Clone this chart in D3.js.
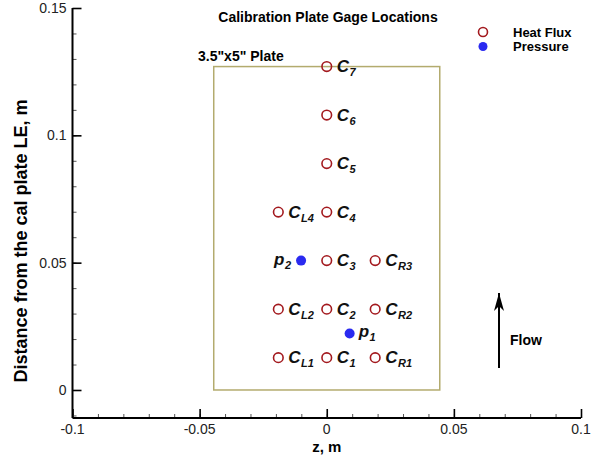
<!DOCTYPE html>
<html>
<head>
<meta charset="utf-8">
<script src="https://cdn.jsdelivr.net/npm/d3@7"></script>
<style>
  html, body { margin: 0; padding: 0; background: #fff; }
  svg { display: block; font-family: "Liberation Sans", Arial, Helvetica, sans-serif; }
</style>
</head>
<body>
<svg id="chart" width="598" height="457"></svg>
<script>
// Gage positions on the 3.5" x 5" calibration plate (metres)
const heatFluxNames = ["C1", "C2", "C3", "C4", "C5", "C6", "C7", "CL1", "CL2", "CL4", "CR1", "CR2", "CR3"];
const heatFluxSub   = ["1", "2", "3", "4", "5", "6", "7", "L1", "L2", "L4", "R1", "R2", "R3"];
const heatFluxZ     = [0, 0, 0, 0, 0, 0, 0, -0.01905, -0.01905, -0.01905, 0.01905, 0.01905, 0.01905];
const heatFluxY     = [0.0127, 0.03175, 0.0508, 0.06985, 0.0889, 0.10795, 0.127, 0.0127, 0.03175, 0.06985, 0.0127, 0.03175, 0.0508];

const pressureNames = ["p1", "p2"];
const pressureSub   = ["1", "2"];
const pressureZ     = [0.009, -0.0101];
const pressureY     = [0.0222, 0.0508];

// Plate outline corners
const plateZ = [-0.04445, 0.04445];
const plateY = [0, 0.127];

const xTicks = [-0.1, -0.05, 0, 0.05, 0.1];
const yTicks = [0, 0.05, 0.1, 0.15];

const svg = d3.select("#chart");

const x = d3.scaleLinear().domain([-0.1, 0.1]).range([72.5, 581]);
const y = d3.scaleLinear().domain([-0.011, 0.15]).range([418, 8]);

const tickFmt = d => d === 0 ? "0" : String(d);

// Minor ticks
const xMinor = d3.range(-0.1, 0.1001, 0.01).map(v => +v.toFixed(3));
const yMinor = d3.range(-0.01, 0.1501, 0.01).map(v => +v.toFixed(3));

// x axis
const xAxisG = svg.append("g").attr("transform", `translate(0,${y.range()[0]})`);
xAxisG.append("g")
  .call(d3.axisTop(x).tickValues(xMinor).tickSize(4).tickFormat(""))
  .call(g => g.select(".domain").remove())
  .call(g => g.selectAll("line").attr("stroke", "#555").attr("stroke-width", 1));
xAxisG.append("g")
  .call(d3.axisTop(x).tickValues(xTicks).tickSize(9).tickFormat(""))
  .call(g => g.select(".domain").remove())
  .call(g => g.selectAll("line").attr("stroke", "#000").attr("stroke-width", 1.6));
xAxisG.append("line").attr("x1", x.range()[0]).attr("x2", x.range()[1])
  .attr("stroke", "#000").attr("stroke-width", 2);
xAxisG.selectAll("text.xl").data(xTicks).join("text")
  .attr("class", "xl")
  .attr("x", d => x(d)).attr("y", 16)
  .attr("text-anchor", "middle")
  .attr("font-size", 14).attr("fill", "#222")
  .text(tickFmt);

// y axis
const yAxisG = svg.append("g").attr("transform", `translate(${x.range()[0]},0)`);
yAxisG.append("g")
  .call(d3.axisRight(y).tickValues(yMinor).tickSize(4).tickFormat(""))
  .call(g => g.select(".domain").remove())
  .call(g => g.selectAll("line").attr("stroke", "#555").attr("stroke-width", 1));
yAxisG.append("g")
  .call(d3.axisRight(y).tickValues(yTicks).tickSize(9).tickFormat(""))
  .call(g => g.select(".domain").remove())
  .call(g => g.selectAll("line").attr("stroke", "#000").attr("stroke-width", 1.6));
yAxisG.append("line").attr("y1", y.range()[0]).attr("y2", y(0.15))
  .attr("stroke", "#000").attr("stroke-width", 2);
yAxisG.selectAll("text.yl").data(yTicks).join("text")
  .attr("class", "yl")
  .attr("x", -6).attr("y", d => y(d)).attr("dy", "0.35em")
  .attr("text-anchor", "end")
  .attr("font-size", 14).attr("fill", "#222")
  .text(tickFmt);

// Axis titles
svg.append("text")
  .attr("x", x(0)).attr("y", 452)
  .attr("text-anchor", "middle")
  .attr("font-size", 15).attr("font-weight", "bold")
  .text("z, m");
svg.append("text")
  .attr("transform", `translate(27,241) rotate(-90)`)
  .attr("text-anchor", "middle")
  .attr("font-size", 18).attr("font-weight", "bold")
  .text("Distance from the cal plate LE, m");

// Title
svg.append("text")
  .attr("x", 328).attr("y", 22)
  .attr("text-anchor", "middle")
  .attr("font-size", 14).attr("font-weight", "bold")
  .text("Calibration Plate Gage Locations");

// Plate outline
svg.append("rect")
  .attr("x", x(plateZ[0])).attr("y", y(plateY[1]))
  .attr("width", x(plateZ[1]) - x(plateZ[0]))
  .attr("height", y(plateY[0]) - y(plateY[1]))
  .attr("fill", "none").attr("stroke", "#b3ab6e").attr("stroke-width", 1.5);
svg.append("text")
  .attr("x", 198).attr("y", 61)
  .attr("font-size", 14).attr("font-weight", "bold")
  .text("3.5\"x5\" Plate");

// Gage label: bold italic letter with subscript
function gageLabel(sel, letter, sub, px, py) {
  const t = sel.append("text")
    .attr("x", px).attr("y", py)
    .attr("font-weight", "bold").attr("font-style", "italic")
    .attr("fill", "#111");
  t.append("tspan").attr("font-size", 17).text(letter);
  t.append("tspan").attr("font-size", 11).attr("dy", 4).attr("dx", 0.5).text(sub);
}

const hf = heatFluxNames.map((n, i) => ({ name: n, sub: heatFluxSub[i], z: heatFluxZ[i], y: heatFluxY[i] }));
const pr = pressureNames.map((n, i) => ({ name: n, sub: pressureSub[i], z: pressureZ[i], y: pressureY[i] }));

svg.append("g").selectAll("circle").data(hf).join("circle")
  .attr("cx", d => x(d.z)).attr("cy", d => y(d.y)).attr("r", 4.8)
  .attr("fill", "none").attr("stroke", "#a3191e").attr("stroke-width", 1.6);
hf.forEach(d => gageLabel(svg, "C", d.sub, x(d.z) + 10, y(d.y) + 5.5));

svg.append("g").selectAll("circle").data(pr).join("circle")
  .attr("cx", d => x(d.z)).attr("cy", d => y(d.y)).attr("r", 5)
  .attr("fill", "#2a2af0");
// p1 label sits to the right of its dot, p2 to the left
gageLabel(svg, "p", pr[0].sub, x(pr[0].z) + 9, y(pr[0].y) + 4);
gageLabel(svg, "p", pr[1].sub, x(pr[1].z) - 27, y(pr[1].y) + 4);

// Legend
const legX = 483;
svg.append("circle").attr("cx", legX).attr("cy", 32).attr("r", 4.5)
  .attr("fill", "none").attr("stroke", "#a3191e").attr("stroke-width", 1.6);
svg.append("circle").attr("cx", legX).attr("cy", 46.5).attr("r", 4.5)
  .attr("fill", "#2a2af0");
svg.append("text").attr("x", 513).attr("y", 36.5)
  .attr("font-size", 13).attr("font-weight", "bold").text("Heat Flux");
svg.append("text").attr("x", 513).attr("y", 51)
  .attr("font-size", 13).attr("font-weight", "bold").text("Pressure");

// Flow direction arrow
const defs = svg.append("defs");
defs.append("marker").attr("id", "arrowHead")
  .attr("viewBox", "0 0 18 10").attr("refX", 18).attr("refY", 5)
  .attr("markerWidth", 18).attr("markerHeight", 10)
  .attr("markerUnits", "userSpaceOnUse").attr("orient", "auto")
  .append("path").attr("d", "M0,0 L18,5 L0,10 L5,5 Z").attr("fill", "#000");
svg.append("line")
  .attr("x1", 499).attr("y1", 368).attr("x2", 499).attr("y2", 293)
  .attr("stroke", "#000").attr("stroke-width", 2)
  .attr("marker-end", "url(#arrowHead)");
svg.append("text").attr("x", 510).attr("y", 345)
  .attr("font-size", 14).attr("font-weight", "bold").text("Flow");
</script>
</body>
</html>
